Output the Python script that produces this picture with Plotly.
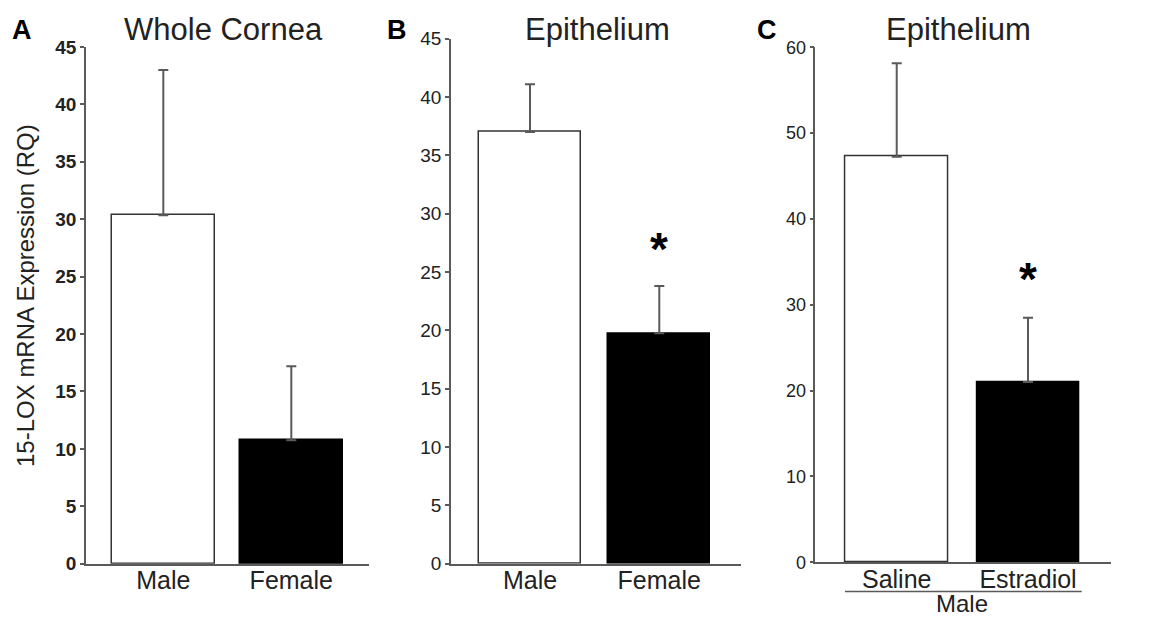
import plotly.graph_objects as go

# ---- data ----
cats_a = ["Male", "Female"]
vals_a = [30.35, 10.75]
err_a = [12.65, 6.45]          # upper SEM

cats_b = ["Male", "Female"]
vals_b = [37.0, 19.75]
err_b = [4.1, 4.05]

cats_c = ["Saline", "Estradiol"]
vals_c = [47.25, 21.0]
err_c = [10.9, 7.5]

colors = ["white", "black"]
titles = ["Whole Cornea", "Epithelium", "Epithelium"]
letters = ["A", "B", "C"]
ytitle = "15-LOX mRNA Expression (RQ)"
group_label = "Male"

# page body has an 8px default margin; size the figure to fill the window
OFF = 8
W, H = 1158 - OFF, 618 - OFF
FONT = "Liberation Sans, Arial, sans-serif"
AX = "#5a5a5a"
TXT = "#222222"

def px(x):
    return (x - OFF) / W

def py(y):
    return 1 - (y - OFF) / H

fig = go.Figure()

panels = [
    (cats_a, vals_a, err_a, 0.80, "x", "y"),
    (cats_b, vals_b, err_b, 0.79, "x2", "y2"),
    (cats_c, vals_c, err_c, 0.78, "x3", "y3"),
]
for cats, vals, errs, bw, xa, ya in panels:
    fig.add_trace(go.Bar(
        x=cats, y=vals, width=bw,
        marker=dict(color=colors, line=dict(color=["#333333", "black"], width=1.5)),
        error_y=dict(type="data", symmetric=False, array=errs,
                     arrayminus=[0] * len(errs), color=AX, thickness=2, width=5),
        xaxis=xa, yaxis=ya, showlegend=False,
    ))

xcommon = dict(showline=True, linecolor=AX, linewidth=1.5, ticks="",
               showgrid=False, zeroline=False, automargin=False,
               ticklabelstandoff=-6,
               tickfont=dict(family=FONT, size=25, color=TXT))
ycommon = dict(showline=True, linecolor=AX, linewidth=1.5, ticks="outside",
               ticklen=4, tickwidth=1.5, tickcolor=AX, showgrid=False,
               zeroline=False, automargin=False)

fig.update_layout(
    template="none",
    width=W, height=H,
    margin=dict(l=0, r=0, t=0, b=0, autoexpand=False),
    paper_bgcolor="white", plot_bgcolor="white",
    bargap=0,
    xaxis=dict(domain=[px(86), px(369)], range=[-0.604, 1.607], anchor="y", **xcommon),
    yaxis=dict(domain=[py(563.7), py(47)], range=[0, 45], dtick=5, anchor="x",
               tickfont=dict(family=FONT, size=19, color=TXT), tickprefix="<b>",
               ticksuffix="</b>", **ycommon),
    xaxis2=dict(domain=[px(451), px(741)], range=[-0.611, 1.632], anchor="y2", **xcommon),
    yaxis2=dict(domain=[py(563.7), py(38.7)], range=[0, 45], dtick=5, anchor="x2",
                tickfont=dict(family=FONT, size=19, color=TXT), **ycommon),
    xaxis3=dict(domain=[px(815.3), px(1111)], range=[-0.62, 1.632], anchor="y3", **xcommon),
    yaxis3=dict(domain=[py(562.3), py(47.3)], range=[0, 60], dtick=10, anchor="x3",
                tickfont=dict(family=FONT, size=18, color=TXT), **ycommon),
)

ann = []
# panel titles
for t, cx in zip(titles, [223, 597, 958.5]):
    ann.append(dict(text=t, x=px(cx), y=py(30), xref="paper", yref="paper",
                    xanchor="center", yanchor="middle", showarrow=False,
                    font=dict(family=FONT, size=31, color=TXT)))
# panel letters
for l, cx in zip(letters, [22, 397, 767]):
    ann.append(dict(text="<b>%s</b>" % l, x=px(cx), y=py(30), xref="paper", yref="paper",
                    xanchor="center", yanchor="middle", showarrow=False,
                    font=dict(family=FONT, size=27, color="black")))
# y-axis title
ann.append(dict(text=ytitle, x=px(25), y=py(296), xref="paper", yref="paper",
                xanchor="center", yanchor="middle", textangle=-90, showarrow=False,
                font=dict(family=FONT, size=24, color=TXT)))
# significance asterisks
ann.append(dict(text="<b>*</b>", x="Female", y=27.5, xref="x2", yref="y2",
                xanchor="center", yanchor="middle", showarrow=False,
                font=dict(family=FONT, size=46, color="black"), yshift=-6))
ann.append(dict(text="<b>*</b>", x="Estradiol", y=33.7, xref="x3", yref="y3",
                xanchor="center", yanchor="middle", showarrow=False,
                font=dict(family=FONT, size=46, color="black"), yshift=-6))
# group label
ann.append(dict(text=group_label, x=0.5, y=py(603), xref="x3", yref="paper",
                xanchor="center", yanchor="middle", showarrow=False,
                font=dict(family=FONT, size=24, color=TXT)))
fig.update_layout(annotations=ann)

fig.add_shape(type="line", xref="x3", yref="paper", x0=-0.394, x1=1.409,
              y0=py(591.5), y1=py(591.5), line=dict(color=AX, width=1.5))

fig.write_html("out.html")
